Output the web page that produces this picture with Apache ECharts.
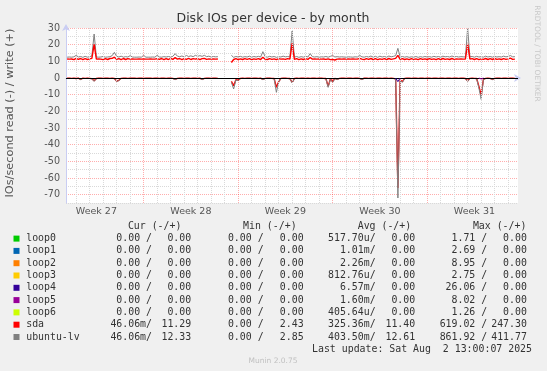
<!DOCTYPE html>
<html><head><meta charset="utf-8">
<script src="https://cdn.jsdelivr.net/npm/echarts@6/dist/echarts.min.js"></script>
<style>html,body{margin:0;padding:0;background:#f0f0f0}#c{width:547px;height:371px}</style>
</head><body><div id="c"></div>
<script>
// ---- time base (UTC) ----
const dataStart = Date.UTC(2025, 5, 30, 8, 0, 0);   // first sample
const stepHours = 4;
const axisStart = Date.UTC(2025, 5, 30, 6, 0, 0);
const axisEnd = Date.UTC(2025, 7, 2, 17, 30, 0);

// ---- tick labels ----
const weekLabels = ['Week 27', 'Week 28', 'Week 29', 'Week 30', 'Week 31'];
const weekLabelTimes = [Date.UTC(2025,6,2,12), Date.UTC(2025,6,9,12), Date.UTC(2025,6,16,12), Date.UTC(2025,6,23,12), Date.UTC(2025,6,30,12)];
const weekStarts = [Date.UTC(2025,6,6), Date.UTC(2025,6,13), Date.UTC(2025,6,20), Date.UTC(2025,6,27)];

// ---- series values (IOs/second), one sample every 4 hours ----
const lvWrite = [
12.5,12.6,12.5,12.7,13.6,12.6,12.9,12.4,13.0,12.5,
12.8,13.2,26.4,12.6,12.5,12.6,12.9,12.5,12.6,12.8,
13.4,15.4,13.0,12.6,13.1,12.5,12.8,12.6,13.4,12.6,
12.5,12.5,12.6,12.5,13.6,12.5,12.5,12.5,12.6,12.5,
13.6,12.6,12.5,12.8,12.6,12.9,12.6,13.0,14.6,13.1,
12.8,13.2,12.7,13.5,12.9,13.3,12.8,13.6,13.0,13.4,
13.0,13.6,12.8,13.1,12.6,12.9,12.7,12.8,null,null,
null,null,null,13.6,12.4,12.9,12.6,13.0,12.5,12.8,
12.6,13.1,12.5,12.9,12.6,13.0,12.6,15.8,12.8,12.5,
13.0,12.6,12.9,12.4,12.8,12.6,13.1,12.7,12.9,12.6,
28.2,12.5,12.9,12.4,12.8,12.5,13.0,12.6,14.6,12.8,
12.6,12.8,12.5,12.7,12.6,12.9,12.5,13.0,13.5,12.6,
12.8,12.6,12.7,12.6,12.5,12.7,12.6,12.5,12.7,12.6,
13.6,12.7,12.5,12.9,12.6,13.2,12.5,13.0,12.4,13.1,
12.6,12.9,12.5,13.2,12.7,13.0,13.4,17.8,12.6,12.9,
12.5,12.8,12.4,12.7,12.5,12.9,12.4,12.8,12.5,12.9,
12.6,12.8,12.5,13.0,12.6,12.9,12.5,13.1,12.7,12.9,
12.6,13.2,12.7,12.9,12.6,12.8,12.7,12.6,30.0,12.7,
12.9,12.5,13.0,12.6,12.8,12.5,13.1,12.6,12.9,12.5,
13.0,12.6,12.8,12.6,13.1,12.7,12.9,13.5,12.7,12.8];
const sdaWrite = [
11.4,11.3,11.4,11.0,11.8,11.2,11.7,11.0,11.6,11.1,
11.5,11.8,20.2,11.3,11.4,11.3,11.0,11.6,11.1,11.7,
11.8,12.5,11.2,11.6,11.0,11.7,11.1,11.6,11.3,11.4,
11.3,11.3,11.4,11.3,11.5,11.3,11.3,11.4,11.3,11.3,
11.6,11.2,11.7,11.0,11.6,11.1,11.8,11.2,12.2,11.3,
11.7,11.0,11.6,11.2,11.8,11.1,11.6,11.3,11.7,11.0,
11.6,11.8,11.2,11.5,11.3,11.4,11.3,11.4,null,null,
null,null,null,9.3,11.1,11.6,11.0,11.5,11.1,11.6,
11.2,11.6,11.0,11.5,11.2,11.6,11.1,12.5,11.3,11.1,
11.6,11.2,11.5,11.0,11.6,11.3,11.5,11.2,11.6,11.3,
20.8,11.2,11.6,11.0,11.5,11.1,11.6,11.2,12.3,11.3,
11.4,11.3,11.4,11.3,11.4,11.2,11.5,11.0,11.2,10.8,
11.3,11.4,11.3,11.4,11.3,11.4,11.3,11.4,11.3,11.3,
11.8,11.3,11.0,11.6,11.2,11.7,11.1,11.6,11.0,11.5,
11.2,11.6,11.1,11.7,11.2,11.5,11.8,13.6,11.2,11.6,
11.1,11.5,11.0,11.6,11.2,11.5,11.0,11.6,11.2,11.5,
11.1,11.6,11.2,11.5,11.0,11.6,11.1,11.7,11.2,11.5,
11.1,11.7,11.2,11.5,11.3,11.4,11.3,11.4,20.5,11.3,
11.6,11.1,11.6,11.0,11.5,11.2,11.7,11.1,11.6,11.1,
11.7,11.2,11.5,11.1,11.6,11.2,11.5,11.9,11.2,11.3];
const lvRead = [
0.2,0.2,0.3,0.2,0.4,0.2,1.0,0.2,0.3,0.2,
0.3,0.5,2.0,0.4,0.2,0.2,0.3,0.2,0.2,0.3,
0.2,0.4,2.0,1.6,0.3,0.2,0.2,0.3,0.2,0.2,
0.2,0.3,0.2,0.2,0.3,0.2,0.2,0.2,0.3,0.2,
0.2,0.3,0.2,0.2,0.3,0.2,0.2,0.3,1.0,0.3,
0.2,0.2,0.3,0.2,0.2,0.3,0.2,0.2,0.3,0.2,
1.0,0.3,0.2,0.2,0.3,0.2,0.2,0.3,null,null,
null,null,null,2.5,6.6,1.2,1.6,0.3,0.2,0.3,
0.2,0.2,0.3,0.2,0.2,0.3,0.2,1.0,0.3,0.2,
0.2,0.3,0.4,8.6,2.6,0.3,0.2,0.2,0.3,0.4,
3.0,0.4,0.2,0.3,0.2,0.2,0.3,0.2,0.3,0.2,
0.2,0.3,0.2,0.2,0.3,0.4,5.6,0.8,2.6,0.3,
1.0,0.3,0.2,0.2,0.3,0.2,0.2,0.3,0.2,0.2,
0.3,1.0,0.2,0.2,0.3,0.2,0.2,0.3,0.2,0.2,
0.3,0.2,0.2,0.3,0.2,0.3,0.6,72.0,1.5,2.6,
0.3,0.2,0.2,0.3,0.2,0.2,0.3,0.2,0.2,0.3,
0.2,0.2,0.3,0.2,0.2,0.3,0.2,0.2,0.3,0.2,
0.2,0.3,0.2,0.2,0.3,0.2,0.2,0.4,2.0,0.3,
0.2,0.3,0.4,6.0,12.8,1.0,0.3,0.2,0.3,1.0,
0.3,0.2,0.2,0.3,0.2,0.2,0.3,0.2,0.2,0.3];
const sdaRead = [
0.1,0.1,0.2,0.1,0.3,0.1,0.8,0.1,0.2,0.1,
0.2,0.4,1.7,0.3,0.1,0.1,0.2,0.1,0.1,0.2,
0.1,0.3,1.8,1.4,0.2,0.1,0.1,0.2,0.1,0.1,
0.1,0.2,0.1,0.1,0.2,0.1,0.1,0.1,0.2,0.1,
0.1,0.2,0.1,0.1,0.2,0.1,0.1,0.2,0.8,0.2,
0.1,0.1,0.2,0.1,0.1,0.2,0.1,0.1,0.2,0.1,
0.8,0.2,0.1,0.1,0.2,0.1,0.1,0.2,null,null,
null,null,null,2.0,4.6,1.0,1.3,0.2,0.1,0.2,
0.1,0.1,0.2,0.1,0.1,0.2,0.1,0.8,0.2,0.1,
0.1,0.2,0.3,5.6,2.2,0.2,0.1,0.1,0.2,0.3,
2.6,0.3,0.1,0.2,0.1,0.1,0.2,0.1,0.2,0.1,
0.1,0.2,0.1,0.1,0.2,0.3,5.0,0.6,2.2,0.2,
0.8,0.2,0.1,0.1,0.2,0.1,0.1,0.2,0.1,0.1,
0.2,0.8,0.1,0.1,0.2,0.1,0.1,0.2,0.1,0.1,
0.2,0.1,0.1,0.2,0.1,0.2,0.5,66.0,1.2,2.2,
0.2,0.1,0.1,0.2,0.1,0.1,0.2,0.1,0.1,0.2,
0.1,0.1,0.2,0.1,0.1,0.2,0.1,0.1,0.2,0.1,
0.1,0.2,0.1,0.1,0.2,0.1,0.1,0.3,1.7,0.2,
0.1,0.2,0.3,5.0,10.2,0.8,0.2,0.1,0.2,0.8,
0.2,0.1,0.1,0.2,0.1,0.1,0.2,0.1,0.1,0.2];
// sparse loop reads: [sample index, value]
const loop4Read = [[146, 0], [147, 2.2], [148, 0]];
const loop5Read = [[183, 0], [184, 0.6], [185, 0]];

// ---- legend table ----
const devices = ['loop0','loop1','loop2','loop3','loop4','loop5','loop6','sda','ubuntu-lv'];
const curRead  = ['0.00 ','0.00 ','0.00 ','0.00 ','0.00 ','0.00 ','0.00 ','46.06m','46.06m'];
const curWrite = ['0.00','0.00','0.00','0.00','0.00','0.00','0.00','11.29','12.33'];
const minRead  = ['0.00 ','0.00 ','0.00 ','0.00 ','0.00 ','0.00 ','0.00 ','0.00 ','0.00 '];
const minWrite = ['0.00','0.00','0.00','0.00','0.00','0.00','0.00','2.43','2.85'];
const avgRead  = ['517.70u','1.01m','2.26m','812.76u','6.57m','1.60m','405.64u','325.36m','403.50m'];
const avgWrite = ['0.00','0.00','0.00','0.00','0.00','0.00','0.00','11.40','12.61'];
const maxRead  = ['1.71 ','2.69 ','8.95 ','2.75 ','26.06 ','8.02 ','1.26 ','619.02 ','861.92 '];
const maxWrite = ['0.00','0.00','0.00','0.00','0.00','0.00','0.00','247.30','411.77'];
const lastUpdate = 'Last update: Sat Aug  2 13:00:07 2025';

// ---- styles ----
const deviceColors = ['#00CC00','#0066B3','#FF8000','#FFCC00','#330099','#990099','#CCFF00','#FF0000','#808080'];

const stepMs = stepHours * 3600 * 1000;
const tAt = i => dataStart + i * stepMs;
const pos = arr => arr.map((v, i) => [tAt(i), v]);
const neg = arr => arr.map((v, i) => [tAt(i), v === null ? null : -v]);
const sparseNeg = arr => arr.map(p => [tAt(p[0]), -p[1]]);

const MAJOR = 'rgba(255,0,0,0.32)';
const MINOR = '#d9d9d9';
const dayLines = [];
for (let t = Date.UTC(2025, 6, 1); t < axisEnd; t += 86400000) {
  const major = weekStarts.indexOf(t) >= 0;
  dayLines.push({ xAxis: t, lineStyle: { color: major ? MAJOR : MINOR, type: [1, 1], width: 1 } });
}

const MONO = '"DejaVu Sans Mono", monospace';
const SANS = '"DejaVu Sans", sans-serif';
const TXT = '#333333';
const graphics = [];
function txt(x, y, s, align, font, color, rot) {
  graphics.push({ type: 'text', x: x, y: y, rotation: rot || 0, silent: true, z: 100,
    style: { text: s, x: 0, y: 0, font: font, fill: color || TXT,
      align: align, textAlign: align, verticalAlign: 'middle', textVerticalAlign: 'middle' } });
}
txt(273, 19, 'Disk IOs per device - by month', 'center', '12.5px ' + SANS, '#333');
txt(10.5, 113, 'IOs/second read (-) / write (+)', 'center', '11.3px ' + SANS, '#555', Math.PI / 2);
txt(537, 53.5, 'RRDTOOL / TOBI OETIKER', 'center', '7.5px ' + SANS, '#c8c8c8', -Math.PI / 2);
txt(273, 361, 'Munin 2.0.75', 'center', '7.5px ' + SANS, '#c0c0c0');

const LF = '9.9px ' + MONO;
const headY = 226.8, row0 = 238.6, rowH = 12.3;
txt(181.4, headY, 'Cur (-/+)', 'right', LF);
txt(296.6, headY, 'Min (-/+)', 'right', LF);
txt(411.2, headY, 'Avg (-/+)', 'right', LF);
txt(526.4, headY, 'Max (-/+)', 'right', LF);
devices.forEach((d, k) => {
  const y = row0 + k * rowH;
  graphics.push({ type: 'rect', silent: true, z: 100, shape: { x: 13.5, y: y - 3, width: 6, height: 6 }, style: { fill: deviceColors[k] } });
  txt(26.2, y, d, 'left', LF);
  txt(152, y, curRead[k] + '/', 'right', LF);
  txt(191.2, y, curWrite[k], 'right', LF);
  txt(263.6, y, minRead[k] + '/', 'right', LF);
  txt(303.6, y, minWrite[k], 'right', LF);
  txt(375.6, y, avgRead[k] + '/', 'right', LF);
  txt(415.2, y, avgWrite[k], 'right', LF);
  txt(487.2, y, maxRead[k] + '/', 'right', LF);
  txt(526.9, y, maxWrite[k], 'right', LF);
});
txt(532, row0 + 9 * rowH, lastUpdate, 'right', LF);

const AX = '#c9cdf3';
const lineSeries = (name, data, color, width, z) => ({
  name: name, type: 'line', data: data, showSymbol: false, symbol: 'none',
  connectNulls: false, z: z, silent: true, animation: false,
  lineStyle: { color: color, width: width }, itemStyle: { color: color }
});

const option = {
  backgroundColor: '#f0f0f0',
  animation: false,
  grid: { left: 66, top: 28, width: 452, height: 175, show: true, backgroundColor: '#ffffff', borderWidth: 0, containLabel: false },
  xAxis: {
    type: 'value', min: axisStart, max: axisEnd,
    axisLine: { show: true, lineStyle: { color: AX, width: 1 }, symbol: ['none', 'arrow'], symbolSize: [6, 7], symbolOffset: [0, 3] },
    axisTick: { show: true, customValues: weekStarts, length: 3, lineStyle: { color: MAJOR } },
    axisLabel: { show: true, customValues: weekLabelTimes, margin: 4, color: '#555', fontFamily: 'DejaVu Sans', fontSize: 9.5,
      formatter: v => { const k = weekLabelTimes.indexOf(v); return k >= 0 ? weekLabels[k] : ''; } },
    splitLine: { show: false }
  },
  yAxis: {
    type: 'value', min: -75, max: 30, interval: 5,
    axisLine: { show: true, onZero: false, lineStyle: { color: AX, width: 1 }, symbol: ['none', 'arrow'], symbolSize: [6, 7], symbolOffset: [0, 4] },
    axisTick: { show: false },
    axisLabel: { margin: 6, color: '#555', fontFamily: 'DejaVu Sans', fontSize: 9.6,
      formatter: v => (v % 10 === 0 ? String(v) : '') },
    splitLine: { show: true, lineStyle: { color: [MINOR, MAJOR], type: [1, 1], width: 1 } }
  },
  graphic: { elements: graphics },
  series: [
    { type: 'line', data: [], z: 1, silent: true,
      markLine: { silent: true, symbol: ['none', 'none'], label: { show: false }, animation: false, data: dayLines } },
    lineSeries('sda read', neg(sdaRead), '#FF0000', 1.4, 3),
    lineSeries('ubuntu-lv read', neg(lvRead), '#808080', 1, 3),
    lineSeries('ubuntu-lv write', pos(lvWrite), '#808080', 1, 3),
    lineSeries('sda write', pos(sdaWrite), '#FF0000', 1.4, 4),
    { type: 'line', data: [], z: 5, silent: true,
      markLine: { silent: true, symbol: ['none', 'none'], label: { show: false }, animation: false,
        data: [{ yAxis: 0, lineStyle: { color: '#000000', type: 'solid', width: 1 } }] } },
    lineSeries('loop4 read', sparseNeg(loop4Read), '#330099', 1, 6),
    lineSeries('loop5 read', sparseNeg(loop5Read), '#990099', 1, 6)
  ]
};
const chart = echarts.init(document.getElementById('c'));
chart.setOption(option);
</script></body></html>
